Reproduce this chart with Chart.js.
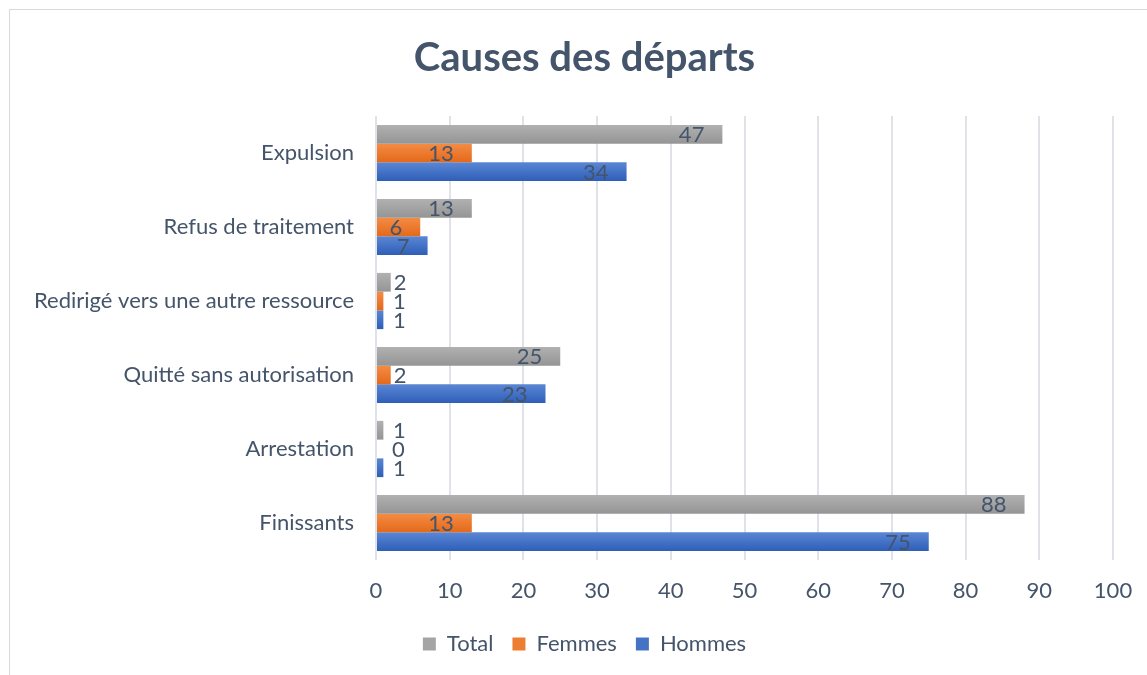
<!DOCTYPE html>
<html lang="fr">
<head>
    <meta charset="UTF-8">
    <title>Causes des départs</title>
    <script src="https://cdn.jsdelivr.net/npm/chart.js"></script>
    <style>
        body { margin: 0; background: #fff; overflow: hidden; }
        #wrap { width: 1147px; height: 675px; }
    </style>
</head>
<body>
    <div id="wrap"><canvas id="chart" width="1147" height="675"></canvas></div>

    <script>
        // data
        const categories = ['Expulsion', 'Refus de traitement', 'Redirigé vers une autre ressource',
            'Quitté sans autorisation', 'Arrestation', 'Finissants'];
        const total = [47, 13, 2, 25, 1, 88];
        const femmes = [13, 6, 1, 2, 0, 13];
        const hommes = [34, 7, 1, 23, 1, 75];
        const xTicks = [0, 10, 20, 30, 40, 50, 60, 70, 80, 90, 100];

        const textColor = '#44546A';
        const fontFamily = 'Lato, "Open Sans", sans-serif';
        const fontSize = 22;

        // [solid, top of gradient, bottom of gradient]
        const colours = {
            Total: ['#A5A5A5', '#B1B1B1', '#959595'],
            Femmes: ['#ED7D31', '#F48C44', '#E3691A'],
            Hommes: ['#4472C4', '#5A86D4', '#2E5EB8']
        };

        function makeSet(label, values) {
            return {
                label: label,
                data: values,
                // scriptable so every bar gets its own options object
                backgroundColor: () => colours[label][0],
                borderWidth: 0,
                categoryPercentage: 0.76,
                barPercentage: 1.0
            };
        }

        // light frame round the chart, like the Excel chart area
        const framePlugin = {
            id: 'frame',
            beforeDraw(chart) {
                const c = chart.ctx;
                c.save();
                c.strokeStyle = '#D9D9D9';
                c.lineWidth = 1;
                c.strokeRect(9.5, 9.5, chart.width + 20, chart.height + 20);
                c.restore();
            }
        };

        // vertical gradient on each bar
        const gradientPlugin = {
            id: 'barGradient',
            beforeDatasetsDraw(chart) {
                const c = chart.ctx;
                chart.data.datasets.forEach((ds, i) => {
                    const meta = chart.getDatasetMeta(i);
                    const col = colours[ds.label];
                    meta.data.forEach(el => {
                        const h = el.height || 0;
                        const g = c.createLinearGradient(0, el.y - h / 2, 0, el.y + h / 2);
                        g.addColorStop(0, col[1]);
                        g.addColorStop(1, col[2]);
                        el.options = Object.assign({}, el.options, { backgroundColor: g });
                    });
                });
            }
        };

        // value labels: inside end when they fit, just outside otherwise
        const labelPlugin = {
            id: 'valueLabels',
            afterDatasetsDraw(chart) {
                const c = chart.ctx;
                c.save();
                c.font = fontSize + 'px ' + fontFamily;
                c.fillStyle = textColor;
                c.textBaseline = 'middle';
                chart.data.datasets.forEach((ds, i) => {
                    const meta = chart.getDatasetMeta(i);
                    meta.data.forEach((el, j) => {
                        const txt = String(ds.data[j]);
                        const w = c.measureText(txt).width;
                        const len = el.x - el.base;
                        if (len >= w + 24) {
                            c.textAlign = 'right';
                            c.fillText(txt, el.x - 18, el.y + 1);
                        } else {
                            c.textAlign = 'left';
                            c.fillText(txt, Math.max(el.x + 3, el.base + 16), el.y + 1);
                        }
                    });
                });
                c.restore();
            }
        };

        new Chart(document.getElementById('chart'), {
            type: 'bar',
            data: {
                labels: categories,
                datasets: [makeSet('Total', total), makeSet('Femmes', femmes), makeSet('Hommes', hommes)]
            },
            plugins: [framePlugin, gradientPlugin, labelPlugin],
            options: {
                indexAxis: 'y',
                responsive: false,
                animation: false,
                layout: { padding: { left: 22, right: 0, top: 10, bottom: 10 } },
                scales: {
                    x: {
                        min: 0,
                        max: 100,
                        afterBuildTicks: s => { s.ticks = xTicks.map(v => ({ value: v })); },
                        afterFit: s => {
                            s.height = 54;
                            s.paddingLeft = 0;
                            s.paddingRight = 0;
                        },
                        grid: { color: '#DFE2E7', lineWidth: 2, drawTicks: false },
                        border: { display: false },
                        ticks: { color: textColor, font: { family: fontFamily, size: fontSize }, padding: 18 }
                    },
                    y: {
                        afterFit: s => { s.width = 354; },
                        grid: { display: false, drawTicks: false },
                        border: { display: false },
                        ticks: { color: textColor, font: { family: fontFamily, size: fontSize }, padding: 22 }
                    },
                    // empty right axis, only keeps room so the plot ends where the original does
                    y2: {
                        type: 'linear',
                        position: 'right',
                        afterFit: s => { s.width = 34; },
                        grid: { display: false, drawTicks: false },
                        border: { display: false },
                        ticks: { display: false }
                    }
                },
                plugins: {
                    title: {
                        display: true,
                        text: 'Causes des départs',
                        color: textColor,
                        font: { family: fontFamily, size: 40, weight: 'bold' },
                        padding: { top: 24, bottom: 34 }
                    },
                    legend: {
                        position: 'bottom',
                        labels: {
                            color: textColor,
                            font: { family: fontFamily, size: fontSize },
                            boxWidth: 13,
                            boxHeight: 13,
                            padding: 19
                        }
                    },
                    tooltip: { enabled: false }
                }
            }
        });
    </script>
</body>
</html>
